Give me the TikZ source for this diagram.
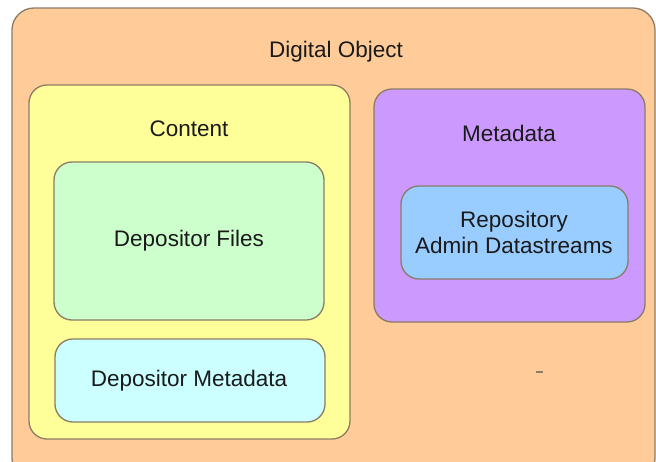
\documentclass[tikz,border=0pt]{standalone}
\usepackage{fontspec}
\setmainfont{Liberation Sans}
\definecolor{objfill}{HTML}{FFCC99}
\definecolor{contfill}{HTML}{FFFF99}
\definecolor{filefill}{HTML}{CCFFCC}
\definecolor{dmdfill}{HTML}{CCFFFF}
\definecolor{metafill}{HTML}{CC99FF}
\definecolor{adminfill}{HTML}{99CCFF}
\definecolor{edge}{HTML}{8C7B66}
\definecolor{ink}{HTML}{1A1A1A}
\tikzset{
  box/.style={draw=edge, line width=1.3pt, rounded corners=18pt},
  lbl/.style={text=ink, font=\fontsize{22.5}{26}\selectfont, align=center, inner sep=0pt},
}
\begin{document}
\begin{tikzpicture}[x=1pt, y=-1pt]
\useasboundingbox (0,0) rectangle (656,461);
\fill[white] (0,0) rectangle (656,461);
% outer digital object
\draw[box, fill=objfill, rounded corners=22pt] (12,8) rectangle (655,480);
% content container
\draw[box, fill=contfill] (29,85) rectangle (350,439);
\draw[box, fill=filefill] (54,162) rectangle (324,320);
\draw[box, fill=dmdfill] (55,339) rectangle (325,422);
% metadata container
\draw[box, fill=metafill] (374,89) rectangle (645,322);
\draw[box, fill=adminfill] (401,186) rectangle (628,279);
% labels
\node[lbl] (obj) at (336,52) {Digital Object};
\node[lbl] (cont) at (189,129) {Content};
\node[lbl] (files) at (189,241) {Depositor Files};
\node[lbl] (dmd) at (189,381) {Depositor Metadata};
\node[lbl] (meta) at (509,133) {Metadata};
\node[lbl] (admin) at (514,232) {Repository\\Admin Datastreams};
% stray dash
\draw[edge, line width=1.5pt] (536,372) -- (543,372);
\end{tikzpicture}
\end{document}
